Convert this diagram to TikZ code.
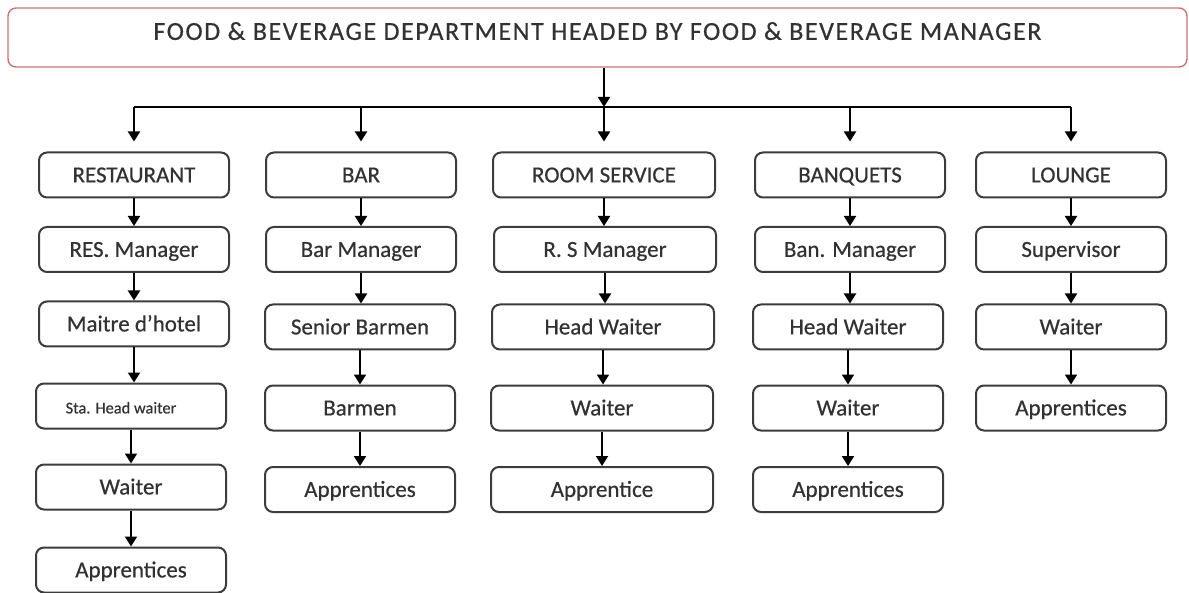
\documentclass[tikz,border=0pt]{standalone}
\usepackage{fontspec}
\setmainfont{Carlito}[BoldFont=Carlito, BoldFeatures={FakeBold=0.5}]
\newfontfamily\titlefont{Carlito}[LetterSpace=6, FakeBold=0.5]
\usetikzlibrary{arrows.meta}

\definecolor{unitline}{RGB}{60,60,60}
\definecolor{headline}{RGB}{205,115,115}
\definecolor{unittext}{RGB}{50,50,50}

\begin{document}
\begin{tikzpicture}[x=0.5pt,y=0.5pt,yscale=-1,xscale=1,
  unit/.style={draw=unitline, line width=1pt, rounded corners=4pt, fill=white,
    minimum width=95pt, minimum height=22.5pt, inner sep=0pt, text=unittext,
    text height=9pt, text depth=1.6pt,
    font=\fontsize{11.5}{13}\selectfont\bfseries},
  wideunit/.style={unit, minimum width=111pt},
  link/.style={draw=black, line width=1pt, -{Triangle[width=6pt,length=5pt]}}]
%set diagram to 1189 x 593
\useasboundingbox (0,0) rectangle (1189,593);

%Shape: Rounded Rectangle [head]
\node [draw=headline, line width=0.7pt, rounded corners=4pt, minimum width=589.5pt, minimum height=29.5pt, inner sep=0pt, text=unittext, text height=9pt, text depth=6.6pt, font=\fontsize{13}{15}\titlefont] (fbhead) at (597.5,37.5) {FOOD \& BEVERAGE DEPARTMENT HEADED BY FOOD \& BEVERAGE MANAGER};

% Departments
\node [unit] (restaurant) at (134,175) {RESTAURANT};
\node [unit] (bar) at (361,175) {BAR};
\node [wideunit] (roomservice) at (604,175) {ROOM SERVICE};
\node [unit] (banquets) at (850,175) {BANQUETS};
\node [unit] (lounge) at (1071,175) {LOUNGE};

% Restaurant
\node [unit] (resmanager) at (134,249.5) {RES. Manager};
\node [unit] (maitre) at (134,324) {Maitre d’hotel};
\node [unit, font=\fontsize{8.2}{10}\selectfont\bfseries] (staheadwaiter) at (131,406) {Sta. Head waiter\hspace*{10pt}};
\node [unit] (reswaiter) at (131,487) {Waiter};
\node [unit] (resapprentices) at (131,570) {Apprentices};

% Bar
\node [unit] (barmanager) at (361,249.5) {Bar Manager};
\node [unit] (seniorbarmen) at (360,327) {Senior Barmen};
\node [unit] (barmen) at (360,408) {Barmen};
\node [unit] (barapprentices) at (360,489.5) {Apprentices};

% Room service
\node [wideunit] (rsmanager) at (605,249.5) {R. S Manager};
\node [wideunit] (rsheadwaiter) at (603,327) {Head Waiter};
\node [wideunit] (rswaiter) at (602,408) {Waiter};
\node [wideunit] (rsapprentice) at (602,489.5) {Apprentice};

% Banquets
\node [unit] (banmanager) at (850,249.5) {Ban. Manager};
\node [unit] (banheadwaiter) at (848,327) {Head Waiter};
\node [unit] (banwaiter) at (848,408) {Waiter};
\node [unit] (banapprentices) at (848,489.5) {Apprentices};

% Lounge
\node [unit] (supervisor) at (1071,249.5) {Supervisor};
\node [unit] (lngwaiter) at (1071,327) {Waiter};
\node [unit] (lngapprentices) at (1071,408) {Apprentices};

% Bus line under the head
\coordinate (bus) at (604,107);
\draw [link] (bus |- fbhead.south) -- (bus);
\draw [line width=1pt] (restaurant |- bus) -- (lounge |- bus);
\draw [link, shorten >=5pt] (restaurant |- bus) -- (restaurant);
\draw [link, shorten >=5pt] (bar |- bus) -- (bar);
\draw [link, shorten >=5pt] (roomservice |- bus) -- (roomservice);
\draw [link, shorten >=5pt] (banquets |- bus) -- (banquets);
\draw [link, shorten >=5pt] (lounge |- bus) -- (lounge);

% Chains
\draw [link] (restaurant) -- (restaurant |- resmanager.north);
\draw [link] (resmanager) -- (resmanager |- maitre.north);
\draw [link] (maitre) -- (maitre |- staheadwaiter.north);
\draw [link] (staheadwaiter) -- (staheadwaiter |- reswaiter.north);
\draw [link] (reswaiter) -- (reswaiter |- resapprentices.north);

\draw [link] (bar) -- (bar |- barmanager.north);
\draw [link] (barmanager) -- (barmanager |- seniorbarmen.north);
\draw [link] (seniorbarmen) -- (seniorbarmen |- barmen.north);
\draw [link] (barmen) -- (barmen |- barapprentices.north);

\draw [link] (roomservice) -- (roomservice |- rsmanager.north);
\draw [link] (rsmanager) -- (rsmanager |- rsheadwaiter.north);
\draw [link] (rsheadwaiter) -- (rsheadwaiter |- rswaiter.north);
\draw [link] (rswaiter) -- (rswaiter |- rsapprentice.north);

\draw [link] (banquets) -- (banquets |- banmanager.north);
\draw [link] (banmanager) -- (banmanager |- banheadwaiter.north);
\draw [link] (banheadwaiter) -- (banheadwaiter |- banwaiter.north);
\draw [link] (banwaiter) -- (banwaiter |- banapprentices.north);

\draw [link] (lounge) -- (lounge |- supervisor.north);
\draw [link] (supervisor) -- (supervisor |- lngwaiter.north);
\draw [link] (lngwaiter) -- (lngwaiter |- lngapprentices.north);

\end{tikzpicture}
\end{document}
